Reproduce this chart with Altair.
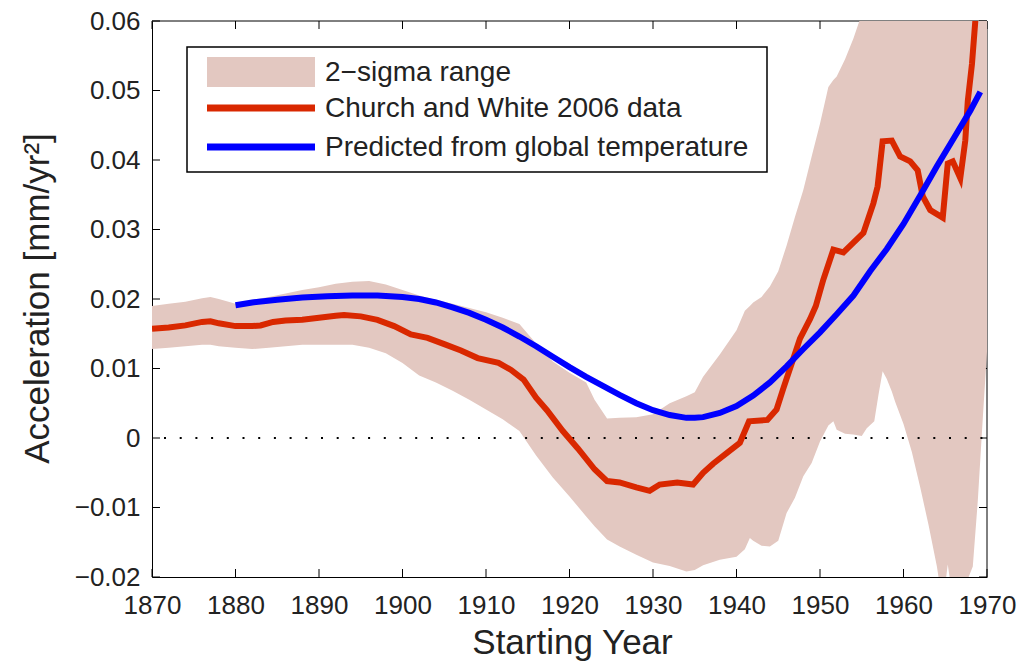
import altair as alt
import pandas as pd

# ---------------- data ----------------
band_years = [1870, 1872, 1874, 1876, 1877, 1878, 1880, 1882, 1884, 1886,
              1888, 1890, 1892, 1894, 1896, 1898, 1900, 1902, 1904, 1906,
              1908, 1910, 1912, 1914, 1916, 1918, 1920, 1922, 1923, 1924.5,
              1926, 1928, 1930, 1932, 1934, 1935, 1936, 1938, 1940, 1941,
              1941.6, 1942, 1943, 1944, 1945, 1946, 1947, 1948, 1949, 1950,
              1951, 1951.6, 1952, 1953, 1954, 1955, 1955.6, 1956.5, 1957, 1957.5,
              1958, 1958.6, 1959, 1960, 1961, 1962, 1963, 1964, 1964.7, 1965.3,
              1966, 1967, 1967.8, 1968.3, 1968.9, 1969.5, 1970]
band_upper = [0.0190, 0.0193, 0.0196, 0.0201, 0.0203, 0.0200, 0.0193, 0.0199, 0.0203, 0.0208,
              0.0213, 0.0217, 0.0222, 0.0225, 0.0226, 0.0221, 0.0213, 0.0205, 0.0199, 0.0193,
              0.0187, 0.0181, 0.0173, 0.0164, 0.0136, 0.0110, 0.0094, 0.0080, 0.0055, 0.0028,
              0.0029, 0.0030, 0.0034, 0.0050, 0.0060, 0.0066, 0.0088, 0.0120, 0.0155, 0.0183,
              0.0190, 0.0195, 0.0203, 0.0218, 0.0240, 0.0277, 0.0318, 0.0357, 0.0405, 0.0452,
              0.0505, 0.0515, 0.0520, 0.0545, 0.0575, 0.0610, 0.0640, 0.0680, 0.0700, 0.0750,
              0.0750, 0.0750, 0.0750, 0.0750, 0.0750, 0.0750, 0.0750, 0.0750, 0.0750, 0.0750,
              0.0750, 0.0750, 0.0750, 0.0750, 0.0750, 0.0750, 0.0750]
band_lower = [0.0128, 0.0130, 0.0132, 0.0134, 0.0134, 0.0132, 0.0130, 0.0128, 0.0130, 0.0132,
              0.0134, 0.0134, 0.0134, 0.0134, 0.0130, 0.0122, 0.0108, 0.0090, 0.0080, 0.0068,
              0.0055, 0.0041, 0.0027, 0.0010, -0.0025, -0.0057, -0.0084, -0.0113, -0.0127, -0.0146,
              -0.0156, -0.0168, -0.0179, -0.0184, -0.0192, -0.0190, -0.0183, -0.0175, -0.0171, -0.0160,
              -0.0144, -0.0148, -0.0155, -0.0156, -0.0148, -0.0108, -0.0086, -0.0055, -0.0036, -0.0005,
              0.0018, 0.0024, 0.0012, 0.0006, 0.0005, 0.0003, 0.0014, 0.0024, 0.0062, 0.0096,
              0.0085, 0.0067, 0.0052, 0.0020, -0.0020, -0.0071, -0.0125, -0.0185, -0.0240, -0.0182,
              -0.0240, -0.0240, -0.0200, -0.0185, -0.0090, 0.0029, 0.0124]

church_years = [1870, 1872, 1874, 1876, 1877, 1878, 1880, 1882, 1883, 1884.5,
                1886, 1888, 1890, 1892, 1893, 1895, 1897, 1899, 1901, 1903,
                1905, 1907, 1909, 1911.5, 1913, 1914.5, 1916, 1917.3, 1919.2, 1921,
                1923, 1924.5, 1926, 1928, 1929.6, 1930.8, 1932.9, 1934.8, 1936, 1937.2,
                1938.9, 1940.4, 1941.5, 1943.7, 1944.8, 1945.6, 1946.8, 1947.6, 1948.8, 1949.5,
                1950.4, 1951.6, 1952.8, 1954, 1955.2, 1956.4, 1956.9, 1957.5, 1958.6, 1959.6,
                1960.8, 1961.7, 1962.3, 1963.2, 1964.7, 1965.3, 1965.9, 1966.8, 1967.4, 1967.7,
                1968.2, 1968.6, 1969]
church_values = [0.0157, 0.0159, 0.0162, 0.0167, 0.0168, 0.0165, 0.0161, 0.0161, 0.0162, 0.0167,
                 0.0169, 0.0170, 0.0173, 0.0176, 0.0177, 0.0175, 0.0170, 0.0161, 0.0149, 0.0144,
                 0.0135, 0.0126, 0.0115, 0.0108, 0.0098, 0.0084, 0.0058, 0.0040, 0.0010, -0.0015,
                 -0.0045, -0.0062, -0.0064, -0.0071, -0.0076, -0.0067, -0.0064, -0.0067, -0.0050, -0.0037,
                 -0.0021, -0.0007, 0.0024, 0.0026, 0.0041, 0.0071, 0.0114, 0.0143, 0.0171, 0.0190,
                 0.0228, 0.0271, 0.0267, 0.0281, 0.0295, 0.0338, 0.0362, 0.0427, 0.0428, 0.0405,
                 0.0398, 0.0385, 0.0348, 0.0328, 0.0317, 0.0395, 0.0398, 0.0374, 0.0428, 0.0485,
                 0.0538, 0.0600, 0.0680]

pred_years = [1880, 1882, 1885, 1888, 1891, 1894, 1897, 1900, 1902, 1904,
              1906, 1908, 1910, 1912, 1914, 1916, 1918, 1920, 1922, 1924,
              1926, 1928, 1930, 1932, 1934, 1935, 1936, 1938, 1940, 1942,
              1944, 1946, 1948, 1950, 1952, 1954, 1956, 1958, 1960, 1962,
              1964, 1966, 1968, 1969.2]
pred_values = [0.0191, 0.0195, 0.0199, 0.0202, 0.0204, 0.0205, 0.0205, 0.0203, 0.0200, 0.0195,
               0.0188, 0.0180, 0.0170, 0.0159, 0.0146, 0.0132, 0.0117, 0.0102, 0.0088, 0.0075,
               0.0062, 0.0050, 0.0040, 0.0033, 0.0029, 0.0029, 0.0030, 0.0036, 0.0046, 0.0061,
               0.0080, 0.0103, 0.0128, 0.0152, 0.0178, 0.0205, 0.0240, 0.0272, 0.0308, 0.0349,
               0.0391, 0.0431, 0.0471, 0.0498]

x_ticks = [1870, 1880, 1890, 1900, 1910, 1920, 1930, 1940, 1950, 1960, 1970]
y_ticks = [-0.02, -0.01, 0.0, 0.01, 0.02, 0.03, 0.04, 0.05, 0.06]

legend_labels = ["2\u2212sigma range", "Church and White 2006 data",
                 "Predicted from global temperature"]

# ---------------- styling ----------------
W, H = 835, 556
TOP = 13
FONT = "Liberation Sans"
BAND = "#e3c8c1"
RED = "#d92800"
BLUE = "#0000ff"
TXT = "#222222"
DY = 9 - TOP  # keeps legend at the same page position

band_df = pd.DataFrame({"year": band_years, "lo": band_lower, "hi": band_upper})
church_df = pd.DataFrame({"year": church_years, "val": church_values})
pred_df = pd.DataFrame({"year": pred_years, "val": pred_values})
xt_df = pd.DataFrame({"year": x_ticks})
yt_df = pd.DataFrame({"val": y_ticks})
one = pd.DataFrame({"a": [0]})

xscale = alt.Scale(domain=[1870, 1970], nice=False, zero=False)
yscale = alt.Scale(domain=[-0.02, 0.06], nice=False, zero=False)

X = alt.X("year:Q", scale=xscale, title="Starting Year",
          axis=alt.Axis(values=x_ticks, format="d", ticks=False, grid=False,
                        domain=True, domainColor="#000", domainWidth=1,
                        labelFont=FONT, labelFontSize=26, labelColor=TXT,
                        labelBaseline="alphabetic", labelPadding=36,
                        labelFlush=False, labelOverlap=False,
                        titleFont=FONT, titleFontSize=35, titleFontWeight="normal",
                        titleColor=TXT, titleBaseline="alphabetic",
                        titleX=420, titleY=76, zindex=0))
Y_axis = alt.Axis(values=y_ticks, ticks=False, grid=False, domain=True,
                  domainColor="#000", domainWidth=1,
                  labelExpr="datum.value == 0 ? '0' : format(datum.value, '.2f')",
                  labelFont=FONT, labelFontSize=26, labelColor=TXT,
                  labelPadding=12, labelFlush=False, labelOverlap=False,
                  titleFont=FONT, titleFontSize=35, titleFontWeight="normal",
                  titleColor=TXT, titleAngle=270, titleAlign="center",
                  titleBaseline="alphabetic", titleX=-104, titleY=277, zindex=0)

base_x = alt.X("year:Q", scale=xscale)

# frame (top and right) and inward ticks: drawn beneath the band
frame_top = alt.Chart(one).mark_rule(color="#000", strokeWidth=1).encode(
    x=alt.value(0), x2=alt.value(W), y=alt.value(0))
frame_right = alt.Chart(one).mark_rule(color="#000", strokeWidth=1).encode(
    x=alt.value(W), y=alt.value(0), y2=alt.value(H))
tick_bottom = alt.Chart(xt_df).mark_rule(color="#000", strokeWidth=1).encode(
    x=base_x, y=alt.value(H), y2=alt.value(H - 8))
tick_top = alt.Chart(xt_df).mark_rule(color="#000", strokeWidth=1).encode(
    x=base_x, y=alt.value(0), y2=alt.value(8))
tick_left = alt.Chart(yt_df).mark_rule(color="#000", strokeWidth=1).encode(
    y=alt.Y("val:Q", scale=yscale), x=alt.value(0), x2=alt.value(8))
tick_right = alt.Chart(yt_df).mark_rule(color="#000", strokeWidth=1).encode(
    y=alt.Y("val:Q", scale=yscale), x=alt.value(W - 8), x2=alt.value(W))

band = alt.Chart(band_df).mark_area(color=BAND, opacity=1, clip=True).encode(
    x=X,
    y=alt.Y("lo:Q", scale=yscale, title="Acceleration [mm/yr\u00b2]", axis=Y_axis),
    y2="hi:Q")

zero = alt.Chart(pd.DataFrame({"v": [0.0]})).mark_rule(
    color="#000", strokeWidth=2, strokeDash=[2, 13.7], strokeDashOffset=-12).encode(
    y=alt.Y("v:Q", scale=yscale), x=alt.value(0), x2=alt.value(W))

church = alt.Chart(church_df).mark_line(color=RED, strokeWidth=6, clip=True).encode(
    x=base_x, y=alt.Y("val:Q", scale=yscale))
pred = alt.Chart(pred_df).mark_line(color=BLUE, strokeWidth=6, clip=True).encode(
    x=base_x, y=alt.Y("val:Q", scale=yscale))

# legend box
leg_box = alt.Chart(one).mark_rect(fill="white", stroke="#000", strokeWidth=1.5).encode(
    x=alt.value(35), x2=alt.value(615), y=alt.value(30 + DY), y2=alt.value(155 + DY))
leg_patch = alt.Chart(one).mark_rect(fill=BAND).encode(
    x=alt.value(55), x2=alt.value(163), y=alt.value(40 + DY), y2=alt.value(70 + DY))
leg_red = alt.Chart(one).mark_rule(color=RED, strokeWidth=7).encode(
    x=alt.value(55), x2=alt.value(163), y=alt.value(91 + DY))
leg_blue = alt.Chart(one).mark_rule(color=BLUE, strokeWidth=7).encode(
    x=alt.value(55), x2=alt.value(163), y=alt.value(130 + DY))
leg_texts = []
for lab, yy in zip(legend_labels, [55, 91, 130]):
    leg_texts.append(alt.Chart(one).mark_text(
        align="left", baseline="middle", font=FONT, fontSize=28, color=TXT).encode(
        x=alt.value(173), y=alt.value(yy + 1 + DY), text=alt.value(lab)))

chart = alt.layer(
    frame_top, frame_right, tick_bottom, tick_top, tick_left, tick_right,
    band, zero, church, pred,
    leg_box, leg_patch, leg_red, leg_blue, *leg_texts
).properties(
    width=W, height=H,
    autosize=alt.AutoSizeParams(type="none"),
    padding={"left": 144, "top": TOP, "right": 31, "bottom": 88},
    background="white"
).configure_view(stroke=None)

chart.save("out.html", embed_options={"renderer": "svg", "actions": False})
